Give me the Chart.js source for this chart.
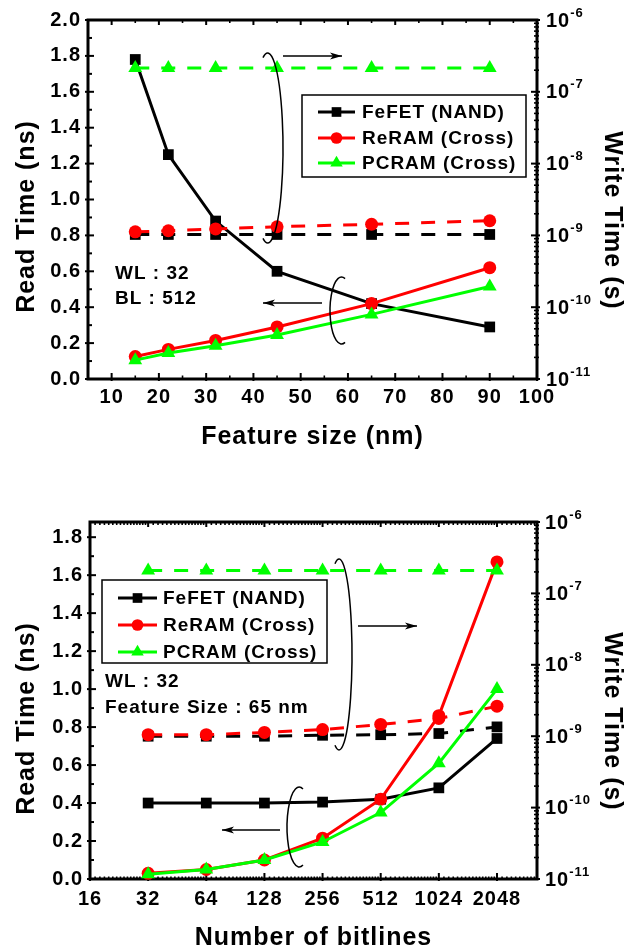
<!DOCTYPE html>
<html>
<head>
<meta charset="utf-8">
<script src="https://cdn.jsdelivr.net/npm/chart.js@4/dist/chart.umd.min.js"></script>
<style>
html,body{margin:0;padding:0;background:#fff;width:627px;height:952px;overflow:hidden;}
.wrap{position:absolute;left:0;width:627px;}
</style>
</head>
<body>
<div class="wrap" style="top:0;height:470px"><canvas id="c1" width="627" height="470"></canvas></div>
<div class="wrap" style="top:470px;height:482px"><canvas id="c2" width="627" height="482"></canvas></div>
<script>
// ---------------- DATA ----------------
const seriesNames = ['FeFET (NAND)', 'ReRAM (Cross)', 'PCRAM (Cross)'];

// Top chart: Feature size sweep (WL 32, BL 512)
const featureSizes = [15, 22, 32, 45, 65, 90];
const fefetReadA  = [1.78, 1.25, 0.88, 0.60, 0.42, 0.29];
const reramReadA  = [0.125, 0.165, 0.215, 0.29, 0.42, 0.62];
const pcramReadA  = [0.105, 0.145, 0.185, 0.245, 0.36, 0.515];
const fefetWriteA = [1.03e-9, 1.03e-9, 1.03e-9, 1.03e-9, 1.03e-9, 1.03e-9];
const reramWriteA = [1.12e-9, 1.16e-9, 1.23e-9, 1.32e-9, 1.43e-9, 1.6e-9];
const pcramWriteA = [2.15e-7, 2.15e-7, 2.15e-7, 2.15e-7, 2.15e-7, 2.15e-7];
const featureTicks = [10, 20, 30, 40, 50, 60, 70, 80, 90, 100];
const readTicksA = [0, 0.2, 0.4, 0.6, 0.8, 1.0, 1.2, 1.4, 1.6, 1.8, 2.0];

// Bottom chart: Number of bitlines sweep (WL 32, 65 nm)
const bitlines = [32, 64, 128, 256, 512, 1024, 2048];
const fefetReadB  = [0.40, 0.40, 0.40, 0.405, 0.42, 0.48, 0.74];
const reramReadB  = [0.03, 0.05, 0.10, 0.215, 0.42, 0.86, 1.67];
const pcramReadB  = [0.025, 0.05, 0.10, 0.195, 0.35, 0.61, 1.00];
const fefetWriteB = [1.0e-9, 1.0e-9, 1.0e-9, 1.03e-9, 1.05e-9, 1.09e-9, 1.35e-9];
const reramWriteB = [1.05e-9, 1.05e-9, 1.13e-9, 1.24e-9, 1.46e-9, 1.77e-9, 2.63e-9];
const pcramWriteB = [2.1e-7, 2.1e-7, 2.1e-7, 2.1e-7, 2.1e-7, 2.1e-7, 2.1e-7];
const bitlineTicks = [16, 32, 64, 128, 256, 512, 1024, 2048];
const readTicksB = [0, 0.2, 0.4, 0.6, 0.8, 1.0, 1.2, 1.4, 1.6, 1.8];

const writeTicks = [1e-11, 1e-10, 1e-9, 1e-8, 1e-7, 1e-6];

// ---------------- STYLE ----------------
const FONT = "'Liberation Sans', Arial, sans-serif";
const seriesColors = ['#000000', '#FF0000', '#00FF00'];
const seriesMarkers = ['rect', 'circle', 'triangle'];
const markerRadius = [7.6, 6.5, 8];

function seg(ctx, x1, y1, x2, y2) { ctx.beginPath(); ctx.moveTo(x1, y1); ctx.lineTo(x2, y2); ctx.stroke(); }

function arrow(ctx, x1, y, x2) {
  ctx.lineWidth = 1.5;
  seg(ctx, x1, y, x2, y);
  const d = Math.sign(x2 - x1);
  ctx.beginPath();
  ctx.moveTo(x2, y);
  ctx.lineTo(x2 - d * 12, y - 3.5);
  ctx.lineTo(x2 - d * 9, y);
  ctx.lineTo(x2 - d * 12, y + 3.5);
  ctx.closePath();
  ctx.fill();
}

function paren(ctx, cx, cy, rx, ry, side) {
  ctx.lineWidth = 1.5;
  ctx.beginPath();
  if (side === 'right') ctx.ellipse(cx, cy, rx, ry, 0, -0.6 * Math.PI, 0.6 * Math.PI);
  else ctx.ellipse(cx, cy, rx, ry, 0, 0.4 * Math.PI, 1.6 * Math.PI);
  ctx.stroke();
}

function buildDatasets(xs, reads, writes) {
  const ds = [];
  seriesNames.forEach((name, i) => {
    const common = {
      borderColor: seriesColors[i], backgroundColor: seriesColors[i],
      pointBackgroundColor: seriesColors[i], pointBorderColor: seriesColors[i],
      pointStyle: seriesMarkers[i], pointRadius: markerRadius[i], pointBorderWidth: 0,
      borderWidth: 3, tension: 0, clip: false, order: 2 - i
    };
    ds.push(Object.assign({}, common, {
      label: name + ' read', yAxisID: 'yRead',
      data: xs.map((x, k) => ({ x: x, y: reads[i][k] }))
    }));
    ds.push(Object.assign({}, common, {
      label: name + ' write', yAxisID: 'yWrite', borderDash: [14, 12],
      data: xs.map((x, k) => ({ x: x, y: writes[i][k] }))
    }));
  });
  return ds;
}

function decorPlugin(cfg) {
  return {
    id: 'decor',
    beforeDraw(chart) { chart.ctx.letterSpacing = '1px'; },
    beforeDatasetsDraw(chart) {
      const { ctx, chartArea: a, scales } = chart;
      const xs = scales.x, yl = scales.yRead, yr = scales.yWrite;
      ctx.save();
      ctx.strokeStyle = '#000';
      ctx.lineCap = 'butt';
      // frame
      ctx.lineWidth = 3;
      ctx.strokeRect(a.left, a.top, a.right - a.left, a.bottom - a.top);
      ctx.lineWidth = 2;
      // left axis ticks
      const lv = yl.ticks.map(t => t.value);
      lv.forEach(v => { const p = yl.getPixelForValue(v); seg(ctx, a.left - 3, p, a.left + 6, p); });
      for (let i = 0; i < lv.length - 1; i++) {
        const p = yl.getPixelForValue((lv[i] + lv[i + 1]) / 2); seg(ctx, a.left, p, a.left + 4, p);
      }
      // x axis ticks (bottom + top)
      const xv = xs.ticks.map(t => t.value);
      xv.forEach(v => {
        const p = xs.getPixelForValue(v);
        seg(ctx, p, a.bottom + 2, p, a.bottom - 6);
        seg(ctx, p, a.top, p, a.top + 5);
      });
      ctx.lineWidth = 1.6;
      const minors = [];
      if (cfg.logX) {
        for (let i = 0; i < xv.length; i++) {
          for (let k = 1; k < 16; k++) {
            const v = xv[i] * (1 + k / 16);
            if (v < xs.max) minors.push(v);
          }
        }
      } else {
        for (let i = 0; i < xv.length - 1; i++) minors.push((xv[i] + xv[i + 1]) / 2);
      }
      minors.forEach(v => {
        const p = xs.getPixelForValue(v);
        seg(ctx, p, a.bottom, p, a.bottom - (cfg.logX ? 2.5 : 3.5));
        seg(ctx, p, a.top, p, a.top + 3);
      });
      // right log axis ticks
      ctx.lineWidth = 2;
      const rv = yr.ticks.map(t => t.value);
      rv.forEach(v => { const p = yr.getPixelForValue(v); seg(ctx, a.right + 3, p, a.right - 6, p); });
      ctx.lineWidth = 1.6;
      for (let i = 0; i < rv.length - 1; i++) {
        for (let k = 2; k < 10; k++) {
          const p = yr.getPixelForValue(rv[i] * k); seg(ctx, a.right + 2, p, a.right - 3, p);
        }
      }
      ctx.restore();
    },
    afterDatasetsDraw(chart) {
      const { ctx, chartArea: a, scales } = chart;
      const yr = scales.yWrite;
      ctx.save();
      ctx.letterSpacing = '1px';
      ctx.fillStyle = '#000';
      ctx.strokeStyle = '#000';
      // annotations
      cfg.parens.forEach(p => paren(ctx, a.left + p.cx, a.top + p.cy, p.rx, p.ry, p.side));
      cfg.arrows.forEach(r => arrow(ctx, a.left + r.x1, a.top + r.y, a.left + r.x2));
      ctx.font = 'bold 19px ' + FONT;
      ctx.textAlign = 'left';
      ctx.textBaseline = 'middle';
      cfg.notes.forEach(n => ctx.fillText(n.text, a.left + n.x, a.top + n.y));
      // legend
      const L = cfg.legend;
      ctx.lineWidth = 1.5;
      ctx.strokeRect(a.left + L.x, a.top + L.y, L.w, L.h);
      seriesNames.forEach((name, i) => {
        const y = a.top + L.rows[i];
        ctx.strokeStyle = seriesColors[i];
        ctx.fillStyle = seriesColors[i];
        ctx.lineWidth = 3;
        ctx.setLineDash([]);
        seg(ctx, a.left + L.lx1, y, a.left + L.lx2, y);
        Chart.helpers.drawPoint(ctx, { pointStyle: seriesMarkers[i], radius: markerRadius[i] * 0.9, borderWidth: 0, rotation: 0 },
          a.left + (L.lx1 + L.lx2) / 2, y);
        ctx.fillStyle = '#000';
        ctx.font = 'bold 19px ' + FONT;
        ctx.textAlign = 'left';
        ctx.textBaseline = 'middle';
        ctx.fillText(name, a.left + L.tx, y + 1);
      });
      // right axis labels with superscripts
      ctx.fillStyle = '#000';
      yr.ticks.forEach(t => {
        const p = yr.getPixelForValue(t.value);
        const exp = Math.round(Math.log10(t.value));
        const x0 = a.right + cfg.rightLabelGap;
        ctx.font = 'bold 20px ' + FONT;
        ctx.textAlign = 'left';
        ctx.textBaseline = 'middle';
        ctx.fillText('10', x0, p + 1);
        const w = ctx.measureText('10').width;
        ctx.font = 'bold 13px ' + FONT;
        ctx.fillText(String(exp), x0 + w, p - 7);
      });
      // axis titles
      ctx.font = 'bold 25px ' + FONT;
      ctx.textAlign = 'center';
      ctx.textBaseline = 'middle';
      const midY = (a.top + a.bottom) / 2;
      ctx.fillText(cfg.xTitle, (a.left + a.right) / 2, a.bottom + cfg.xTitleOffset);
      ctx.save();
      ctx.translate(27, midY + cfg.leftTitleShift);
      ctx.rotate(-Math.PI / 2);
      ctx.fillText('Read Time (ns)', 0, 0);
      ctx.restore();
      ctx.save();
      ctx.translate(612, midY + cfg.rightTitleShift);
      ctx.rotate(Math.PI / 2);
      ctx.fillText('Write Time (s)', 0, 0);
      ctx.restore();
      ctx.restore();
    }
  };
}

function makeChart(id, o) {
  const tickFont = { family: FONT, size: 20, weight: 'bold' };
  return new Chart(document.getElementById(id), {
    type: 'line',
    data: { datasets: buildDatasets(o.xs, o.reads, o.writes) },
    options: {
      responsive: false, animation: false, events: [],
      layout: { padding: { top: o.padTop, left: 0, right: 0, bottom: 0 }, autoPadding: false },
      plugins: { legend: { display: false }, tooltip: { enabled: false } },
      scales: {
        x: {
          type: o.xType, position: 'bottom', min: o.xMin, max: o.xMax,
          afterBuildTicks: s => { s.ticks = o.xTicks.map(v => ({ value: v })); },
          afterFit: s => { s.height = o.xAxisHeight; },
          grid: { display: false, drawTicks: false }, border: { display: false },
          ticks: { font: tickFont, color: '#000', padding: o.xTickPad, maxRotation: 0, minRotation: 0, autoSkip: false,
                   callback: v => String(v) }
        },
        yRead: {
          type: 'linear', position: 'left', min: 0, max: o.readMax,
          afterBuildTicks: s => { s.ticks = o.readTicks.map(v => ({ value: v })); },
          afterFit: s => { s.width = o.leftWidth; },
          grid: { display: false, drawTicks: false }, border: { display: false },
          ticks: { font: tickFont, color: '#000', padding: 7, autoSkip: false, callback: v => Number(v).toFixed(1) }
        },
        yWrite: {
          type: 'logarithmic', position: 'right', min: 1e-11, max: 1e-6,
          afterBuildTicks: s => { s.ticks = writeTicks.map(v => ({ value: v })); },
          afterFit: s => { s.width = 627 - o.rightEdge; },
          grid: { display: false, drawTicks: false }, border: { display: false },
          ticks: { display: false }
        }
      }
    },
    plugins: [decorPlugin(o.decor)]
  });
}

makeChart('c1', {
  xs: featureSizes,
  reads: [fefetReadA, reramReadA, pcramReadA],
  writes: [fefetWriteA, reramWriteA, pcramWriteA],
  xType: 'linear', xMin: 5, xMax: 100, xTicks: featureTicks,
  readMax: 2.0, readTicks: readTicksA,
  padTop: 20, xAxisHeight: 91, leftWidth: 88, rightEdge: 537, xTickPad: 6,
  decor: {
    logX: false, xTitle: 'Feature size (nm)', xTitleOffset: 58.5,
    leftTitleShift: 17, rightTitleShift: 21, rightLabelGap: 9,
    parens: [
      { cx: 179.7, cy: 128, rx: 15.3, ry: 95, side: 'right' },
      { cx: 253.5, cy: 290.5, rx: 11.5, ry: 33.5, side: 'left' }
    ],
    arrows: [ { x1: 195, x2: 254, y: 36 }, { x1: 234, x2: 175, y: 283 } ],
    notes: [ { text: 'WL : 32', x: 27, y: 254 }, { text: 'BL : 512', x: 27, y: 279 } ],
    legend: { x: 214, y: 75, w: 224, h: 82, rows: [92, 118, 143], lx1: 230, lx2: 267, tx: 274 }
  }
});

makeChart('c2', {
  xs: bitlines,
  reads: [fefetReadB, reramReadB, pcramReadB],
  writes: [fefetWriteB, reramWriteB, pcramWriteB],
  xType: 'logarithmic', xMin: 16, xMax: 3300, xTicks: bitlineTicks,
  readMax: 1.88, readTicks: readTicksB,
  padTop: 52, xAxisHeight: 73, leftWidth: 90, rightEdge: 537, xTickPad: 8,
  decor: {
    logX: true, xTitle: 'Number of bitlines', xTitleOffset: 59.5,
    leftTitleShift: 18, rightTitleShift: 21, rightLabelGap: 8,
    parens: [
      { cx: 249, cy: 132.5, rx: 13, ry: 95.5, side: 'right' },
      { cx: 209.2, cy: 305, rx: 12.2, ry: 40, side: 'left' }
    ],
    arrows: [ { x1: 268, x2: 327, y: 104 }, { x1: 190, x2: 132, y: 308 } ],
    notes: [ { text: 'WL : 32', x: 15, y: 160 }, { text: 'Feature Size : 65 nm', x: 15, y: 186 } ],
    legend: { x: 12, y: 58, w: 225, h: 83, rows: [76, 103, 130], lx1: 28, lx2: 67, tx: 73 }
  }
});
</script>
</body>
</html>
